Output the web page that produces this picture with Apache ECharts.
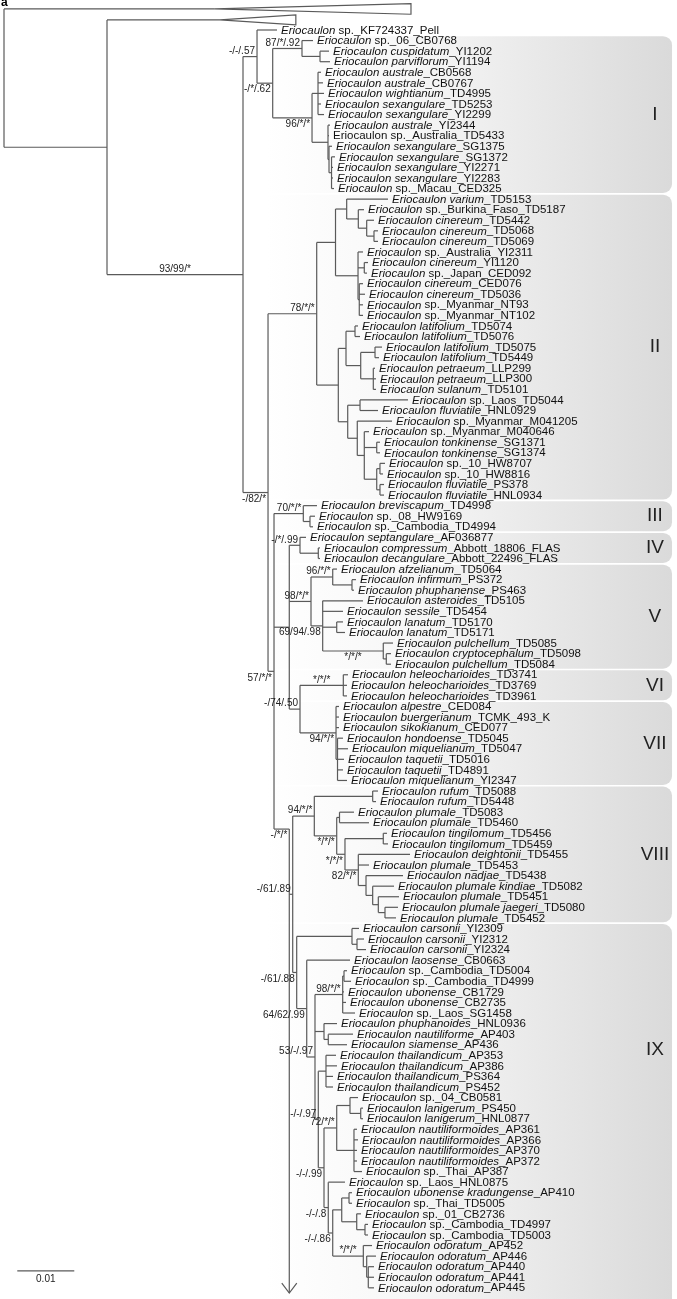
<!DOCTYPE html>
<html><head><meta charset="utf-8">
<script src="https://cdn.jsdelivr.net/npm/echarts@6/dist/echarts.min.js"></script>
<style>html,body{margin:0;padding:0;background:#fff}#c{width:677px;height:1299px}</style>
</head><body><div id="c"></div>
<script>
// ---------- DATA (depths in 10^-3 substitutions/site from root; rows = leaf order) ----------
const leafNames = [
'Eriocaulon| sp._KF724337_Pell','Eriocaulon| sp._06_CB0768','Eriocaulon cuspidatum|_YI1202','Eriocaulon parviflorum|_YI1194',
'Eriocaulon australe|_CB0568','Eriocaulon australe|_CB0767','Eriocaulon wightianum|_TD4995','Eriocaulon sexangulare|_TD5253',
'Eriocaulon sexangulare|_YI2299','Eriocaulon australe|_YI2344','|Eriocaulon sp._Australia_TD5433','Eriocaulon sexangulare|_SG1375',
'Eriocaulon sexangulare|_SG1372','Eriocaulon sexangulare|_YI2271','Eriocaulon sexangulare|_YI2283','Eriocaulon| sp._Macau_CED325',
'Eriocaulon varium|_TD5153','Eriocaulon| sp._Burkina_Faso_TD5187','Eriocaulon cinereum|_TD5442','Eriocaulon cinereum|_TD5068',
'Eriocaulon cinereum|_TD5069','Eriocaulon| sp._Australia_YI2311','Eriocaulon cinereum|_YI1120','Eriocaulon| sp._Japan_CED092',
'Eriocaulon cinereum|_CED076','Eriocaulon cinereum|_TD5036','Eriocaulon| sp._Myanmar_NT93','Eriocaulon| sp._Myanmar_NT102',
'Eriocaulon latifolium|_TD5074','Eriocaulon latifolium|_TD5076','Eriocaulon latifolium|_TD5075','Eriocaulon latifolium|_TD5449',
'Eriocaulon petraeum|_LLP299','Eriocaulon petraeum|_LLP300','Eriocaulon sulanum|_TD5101','Eriocaulon| sp._Laos_TD5044',
'Eriocaulon fluviatile|_HNL0929','Eriocaulon| sp._Myanmar_M041205','Eriocaulon| sp._Myanmar_M040646','Eriocaulon tonkinense|_SG1371',
'Eriocaulon tonkinense|_SG1374','Eriocaulon| sp._10_HW8707','Eriocaulon| sp._10_HW8816','Eriocaulon fluviatile|_PS378',
'Eriocaulon fluviatile|_HNL0934','Eriocaulon breviscapum|_TD4998','Eriocaulon| sp._08_HW9169','Eriocaulon| sp._Cambodia_TD4994',
'Eriocaulon septangulare|_AF036877','Eriocaulon compressum|_Abbott_18806_FLAS','Eriocaulon decangulare|_Abbott_22496_FLAS','Eriocaulon afzelianum|_TD5064',
'Eriocaulon infirmum|_PS372','Eriocaulon phuphanense|_PS463','Eriocaulon asteroides|_TD5105','Eriocaulon sessile|_TD5454',
'Eriocaulon lanatum|_TD5170','Eriocaulon lanatum|_TD5171','Eriocaulon pulchellum|_TD5085','Eriocaulon cryptocephalum|_TD5098',
'Eriocaulon pulchellum|_TD5084','Eriocaulon heleocharioides|_TD3741','Eriocaulon heleocharioides|_TD3769','Eriocaulon heleocharioides|_TD3961',
'Eriocaulon alpestre|_CED084','Eriocaulon buergerianum|_TCMK_493_K','Eriocaulon sikokianum|_CED077','Eriocaulon hondoense|_TD5045',
'Eriocaulon miquelianum|_TD5047','Eriocaulon taquetii|_TD5016','Eriocaulon taquetii|_TD4891','Eriocaulon miquelianum|_YI2347',
'Eriocaulon rufum|_TD5088','Eriocaulon rufum|_TD5448','Eriocaulon plumale|_TD5083','Eriocaulon plumale|_TD5460',
'Eriocaulon tingilomum|_TD5456','Eriocaulon tingilomum|_TD5459','Eriocaulon deightonii|_TD5455','Eriocaulon plumale|_TD5453',
'Eriocaulon nadjae|_TD5438','Eriocaulon plumale kindiae|_TD5082','Eriocaulon plumale|_TD5451','Eriocaulon plumale jaegeri|_TD5080',
'Eriocaulon plumale|_TD5452','Eriocaulon carsonii|_YI2309','Eriocaulon carsonii|_YI2312','Eriocaulon carsonii|_YI2324',
'Eriocaulon laosense|_CB0663','Eriocaulon| sp._Cambodia_TD5004','Eriocaulon| sp._Cambodia_TD4999','Eriocaulon ubonense|_CB1729',
'Eriocaulon ubonense|_CB2735','Eriocaulon| sp._Laos_SG1458','Eriocaulon phuphanoides|_HNL0936','Eriocaulon nautiliforme|_AP403',
'Eriocaulon siamense|_AP436','Eriocaulon thailandicum|_AP353','Eriocaulon thailandicum|_AP386','Eriocaulon thailandicum|_PS364',
'Eriocaulon thailandicum|_PS452','Eriocaulon| sp._04_CB0581','Eriocaulon lanigerum|_PS450','Eriocaulon lanigerum|_HNL0877',
'Eriocaulon nautiliformoides|_AP361','Eriocaulon nautiliformoides|_AP366','Eriocaulon nautiliformoides|_AP370','Eriocaulon nautiliformoides|_AP372',
'Eriocaulon| sp._Thai_AP387','Eriocaulon| sp._Laos_HNL0875','Eriocaulon ubonense kradungense|_AP410','Eriocaulon| sp._Thai_TD5005',
'Eriocaulon| sp._01_CB2736','Eriocaulon| sp._Cambodia_TD4997','Eriocaulon| sp._Cambodia_TD5003','Eriocaulon odoratum|_AP452',
'Eriocaulon odoratum|_AP446','Eriocaulon odoratum|_AP440','Eriocaulon odoratum|_AP441','Eriocaulon odoratum|_AP445'];

const tipDepth = [
47.9,54.21,57.02,57.19,55.61,55.96,56.14,55.61,56.14,57.19,57.02,57.54,58.07,57.72,57.72,57.89,
67.37,63.16,64.91,65.61,65.61,62.98,63.86,63.68,62.98,63.33,62.98,62.98,62.11,62.46,66.32,65.79,
65.09,65.26,65.26,70.88,65.61,68.07,64.04,65.96,65.96,66.84,66.49,66.67,66.67,
54.91,54.56,54.21,52.98,55.44,55.44,58.42,61.75,61.40,62.98,59.47,59.47,59.82,68.25,67.89,67.89,
60.35,60.18,60.18,58.77,58.77,58.77,59.47,60.35,59.65,59.47,60.18,
65.61,65.26,61.40,64.04,67.19,67.37,71.23,64.04,70.00,68.42,69.30,69.12,68.77,
62.28,63.16,63.51,60.70,60.18,60.88,59.65,60.00,61.58,58.42,61.23,60.18,58.25,58.42,57.72,57.72,
62.11,62.98,62.98,61.93,62.11,61.93,61.93,62.81,59.82,61.05,61.05,62.63,63.86,63.86,
64.56,65.26,64.91,64.91,64.91];

const nodeIds = ['R0','R1','N1','A','B','C','D','E','F','G','H','I',
'N2','II','IIa','IIa1','IIa2','IIa3','IIa4','IIa5','IIa6','IIa7','IIb','IIb1','IIb2','IIb3','IIb4','IIb5',
'IIb6','IIb7','IIb8','IIb9','IIb10','IIb11','IIb12','IIb13',
'N3','III','IIIa','N6','IV','IVa','V','Va','Va1','Vb','Vb2','Vb3','Vb4','VIVII','VI','VII','VIIa',
'N4','N7','VIII','VIIIa','VIIIB','VIIIb1','VIIIC','VIIIc1','VIIID','VIIIF','VIIIG','VIIIH','VIIII',
'IX','IXc','IXc1','Q','R','S','S1','W','W1','Z','X','HH','Y','Y1','Y1a','Y2','GG','CC','BB','BB1','BB2','BB2b','DD','DD1','DD2'];

const nodeDepth = [0,18.07,41.93,44.39,47.14,52.28,55.44,54.04,55.09,56.84,57.02,57.46,
46.32,54.86,58.16,60.12,62.16,63.63,64.91,62.11,63.21,62.33,58.65,60.00,61.58,62.58,65.09,64.79,
60.30,62.46,61.98,63.21,65.39,65.39,65.96,65.96,
47.37,52.51,53.68,50.05,51.93,55.14,53.86,57.67,61.05,55.91,58.37,66.54,67.07,51.93,59.53,58.25,58.51,
50.05,50.65,54.44,64.68,58.37,58.86,59.82,66.54,62.16,63.51,64.68,65.67,66.84,
51.35,61.05,61.93,53.11,54.56,59.42,59.65,56.14,56.89,55.14,56.49,56.14,58.37,60.70,62.58,61.40,
56.89,57.67,59.25,60.53,61.88,63.33,63.04,63.63,63.91];

const nodeKids = [
['OG1','R1'],['OG2','N1'],['A','N2'],['L0','B'],['C','E'],['L1','D'],['L2','L3'],['F','G'],
['L4','L5','L6','L7','L8'],['L9','L10','H'],['L11','I'],['L12','L13','L14','L15'],
['II','N3'],['IIa','IIb'],['IIa1','IIa5'],['L16','IIa2'],['L17','IIa3'],['L18','IIa4'],['L19','L20'],
['L21','IIa6','IIa7'],['L22','L23'],['L24','L25','L26','L27'],['IIb1','IIb6'],['IIb2','IIb3'],['L28','L29'],
['IIb4','IIb5'],['L30','L31'],['L32','L33','L34'],['IIb7','IIb8'],['L35','L36'],['L37','IIb9'],
['L38','IIb10','IIb11'],['L39','L40'],['IIb12','IIb13'],['L41','L42'],['L43','L44'],
['III','N6','N4'],['L45','IIIa'],['L46','L47'],['IV','V','VIVII'],['L48','IVa'],['L49','L50'],
['Va','Vb'],['L51','Va1'],['L52','L53'],['L54','L55','Vb2','Vb3'],['L56','L57'],['L58','Vb4'],['L59','L60'],
['VI','VII'],['L61','L62','L63'],['L64','L65','L66','VIIa'],['L67','L68','L69','L70','L71'],
['N7','ARROW'],['VIII','IX'],['VIIIa','VIIIB'],['L72','L73'],['VIIIb1','VIIIC'],['L74','L75'],
['VIIIc1','VIIID'],['L76','L77'],['L78','L79','VIIIF'],['L80','VIIIG'],['L81','VIIIH'],['L82','VIIII'],['L83','L84'],
['IXc','Q'],['L85','IXc1'],['L86','L87'],['L88','R'],['S','W','Z'],['S1','L91','L92','L93'],['L89','L90'],
['L94','W1'],['L95','L96'],['X','HH'],['L97','L98','L99','L100'],['Y','GG'],['Y1','Y2'],['L101','Y1a'],
['L102','L103'],['L104','L105','L106','L107','L108'],['L109','CC'],['BB','DD'],['BB1','BB2'],['L110','L111'],
['L112','BB2b'],['L113','L114'],['L115','DD1'],['L116','DD2'],['L117','L118','L119']];

// node whose stem is drawn at a given row (in leaf units) instead of the midpoint
const stemOverrideIds = ['N4'];
const stemOverrideRows = [75.6];

// collapsed outgroups
const outgroupIds = ['OG1','OG2'];
const outgroupRow = [-1.99,-0.95];
const outgroupApex = [37.0,37.9];
const outgroupTip = [71.4,51.2];
const outgroupHalf = [0.5,0.47];

const arrowRow = 119.5;

// support values: text, node, placement (a=above, b=below, ac/bc = centred on stem)
const supportText = ['93/99/*','-/-/.57','-/*/.62','87/*/.92','96/*/*','78/*/*','-/82/*','57/*/*','70/*/*','-/*/.99',
'98/*/*','96/*/*','69/94/.98','*/*/*','*/*/*','-/74/.50','94/*/*','-/*/*','94/*/*','*/*/*','*/*/*','82/*/*',
'-/61/.89','-/61/.88','64/62/.99','98/*/*','53/-/.97','-/-/.97','72/*/*','-/-/.99','-/-/.8','-/-/.86','*/*/*'];
const supportNode = ['N1','A','B','C','E','II','N2','N3','III','IV','V','Va','Vb','Vb3','VI','VIVII','VII','N4','VIII',
'VIIIB','VIIIC','VIIID','N7','IX','Q','S','R','Z','Y','HH','GG','CC','DD'];
const supportPlace = ['ac','a','b','a','b','a','b','b','a','a','a','a','b','bc','ac','a','b','b','a','b','b','b',
'a','b','b','a','a','a','a','b','b','b','ac'];

// clades
const cladeNames = ['I','II','III','IV','V','VI','VII','VIII','IX'];
const cladeFirst = [1,16,45,48,51,61,64,72,85];
const cladeLast = [15,44,47,50,60,63,71,84,119];
const cladeLabelRow = [8,30,46,49,55.5,62,67.5,78,96.5];

// scale bar (0.01 substitutions/site)
const scaleBarLength = 10;
const scaleBarStart = 2.33;
const scaleBarRow = 117.4;

// ---------- BUILD ----------
const X_MAX = 118.07, Y_MIN = -2.838, Y_MAX = 120.057;
const LINE = '#5a5a5a';
const FONT = '"Liberation Sans", Arial, Helvetica, sans-serif';

const idx = {}; nodeIds.forEach((id,i)=>idx[id]=i);
const ovr = {}; stemOverrideIds.forEach((id,i)=>ovr[id]=stemOverrideRows[i]);
const ogIdx = {}; outgroupIds.forEach((id,i)=>ogIdx[id]=i);
const rowCache = {};
function isLeaf(id){return /^L\d+$/.test(id);}
function rowOf(id){
  if (rowCache[id]!==undefined) return rowCache[id];
  let r;
  if (isLeaf(id)) r = +id.slice(1);
  else if (id==='ARROW') r = arrowRow;
  else if (ogIdx[id]!==undefined) r = outgroupRow[ogIdx[id]];
  else if (ovr[id]!==undefined) r = ovr[id];
  else { const k = nodeKids[idx[id]]; r = (rowOf(k[0]) + rowOf(k[k.length-1]))/2; }
  rowCache[id] = r; return r;
}
const segs = [], tips = [], tris = [], parentDepth = {};
let arrowPt = null;
function walk(id){
  const k = idx[id], d = nodeDepth[k], kids = nodeKids[k];
  const rows = kids.map(rowOf), own = rowOf(id);
  segs.push([d, Math.min(own,...rows), d, Math.max(own,...rows)]);
  kids.forEach((c,j)=>{
    parentDepth[c] = d;
    if (c==='ARROW') { arrowPt = [d, arrowRow]; return; }
    if (isLeaf(c)) { const n=+c.slice(1); segs.push([d,rows[j],tipDepth[n],rows[j]]); tips.push([tipDepth[n],rows[j],n]); }
    else if (ogIdx[c]!==undefined) { const g=ogIdx[c]; segs.push([d,rows[j],outgroupApex[g],rows[j]]); tris.push([outgroupApex[g],rows[j],outgroupTip[g],outgroupHalf[g]]); }
    else { segs.push([d,rows[j],nodeDepth[idx[c]],rows[j]]); walk(c); }
  });
}
walk('R0');

const placeCode = {a:0,b:1,ac:2,bc:3};
const supports = supportText.map((t,i)=>{
  const id = supportNode[i], d = nodeDepth[idx[id]], p = placeCode[supportPlace[i]];
  const ax = p>=2 ? (parentDepth[id]+d)/2 : d;
  return [ax, rowOf(id), i, p];
});
const boxes = cladeNames.map((n,i)=>[cladeFirst[i], cladeLast[i], i, cladeLabelRow[i]]);

const chart = echarts.init(document.getElementById('c'), null, {width:677, height:1299});

function richLabel(name){
  const p = name.split('|');
  return (p[0] ? '{i|'+p[0]+'}' : '') + (p[1] ? '{n|'+p[1]+'}' : '');
}
const TXT = '#111';
const option = {
  animation:false,
  title:{text:'a', left:1, top:-3, padding:0, textStyle:{fontSize:12, fontWeight:'bold', color:'#000', fontFamily:FONT}},
  grid:{left:4, right:0, top:0, bottom:0},
  xAxis:{type:'value', min:0, max:X_MAX, show:false},
  yAxis:{type:'value', min:Y_MIN, max:Y_MAX, inverse:true, show:false},
  series:[
    { // clade boxes
      type:'custom', silent:true, clip:false, z:1, data:boxes,
      renderItem:(params,api)=>{
        const last = api.value(2) === cladeNames.length-1;
        const p0 = api.coord([46, api.value(0)-0.42]);
        const p1 = api.coord([117.2, last ? Y_MAX+1 : api.value(1)+0.42]);
        return {type:'rect', shape:{x:p0[0], y:p0[1], width:p1[0]-p0[0], height:p1[1]-p0[1], r:[0,9,9,0]},
          style:{fill:{type:'linear',x:0,y:0,x2:1,y2:0,colorStops:[{offset:0,color:'rgba(255,255,255,1)'},{offset:0.35,color:'#f7f7f7'},{offset:1,color:'#dadada'}]}}};
      }
    },
    { // clade numerals
      type:'custom', silent:true, clip:false, z:2, data:boxes,
      renderItem:(params,api)=>{
        const p = api.coord([114.2, api.value(3)]);
        return {type:'text', style:{x:p[0], y:p[1], text:cladeNames[api.value(2)], align:'center', verticalAlign:'middle',
          fill:'#222', font:'19px '+FONT}};
      }
    },
    { // branches
      type:'custom', silent:true, clip:false, z:3, data:segs,
      renderItem:(params,api)=>{
        const a = api.coord([api.value(0), api.value(1)]), b = api.coord([api.value(2), api.value(3)]);
        return {type:'line', shape:{x1:a[0],y1:a[1],x2:b[0],y2:b[1]}, style:{stroke:LINE, lineWidth:1.2}};
      }
    },
    { // collapsed outgroups
      type:'custom', silent:true, clip:false, z:3, data:tris,
      renderItem:(params,api)=>{
        const a = api.coord([api.value(0), api.value(1)]);
        const b = api.coord([api.value(2), api.value(1)-api.value(3)]);
        const c = api.coord([api.value(2), api.value(1)+api.value(3)]);
        return {type:'polygon', shape:{points:[a,b,c]}, style:{stroke:LINE, lineWidth:1.2, fill:'#fff'}};
      }
    },
    { // arrow
      type:'custom', silent:true, clip:false, z:3, data:[arrowPt],
      renderItem:(params,api)=>{
        const t = api.coord([api.value(0), api.value(1)]);
        return {type:'polyline', shape:{points:[[t[0]-7.5,t[1]-10],[t[0],t[1]],[t[0]+7.5,t[1]-10]]}, style:{stroke:LINE, lineWidth:1.2, fill:null}};
      }
    },
    { // tip labels
      type:'custom', silent:true, clip:false, z:4, data:tips,
      renderItem:(params,api)=>{
        const p = api.coord([api.value(0), api.value(1)]);
        return {type:'text', style:{x:p[0]+4, y:p[1]+0.5, text:richLabel(leafNames[api.value(2)]), align:'left', verticalAlign:'middle',
          fill:TXT, font:'11.5px '+FONT,
          rich:{i:{fontStyle:'italic', fontSize:11.5, fontFamily:FONT, fill:TXT}, n:{fontSize:11.5, fontFamily:FONT, fill:TXT}}}};
      }
    },
    { // support values
      type:'custom', silent:true, clip:false, z:5, data:supports,
      renderItem:(params,api)=>{
        const p = api.coord([api.value(0), api.value(1)]);
        const m = api.value(3);
        const above = (m===0||m===2);
        return {type:'text', style:{x: m>=2 ? p[0] : p[0]-2, y: above ? p[1]-0.5 : p[1]+1.5,
          text:supportText[api.value(2)], align: m>=2 ? 'center':'right', verticalAlign: above ? 'bottom':'top',
          fill:'#222', font:'10px '+FONT}};
      }
    },
    { // scale bar
      type:'custom', silent:true, clip:false, z:5, data:[[scaleBarStart, scaleBarRow, scaleBarStart+scaleBarLength]],
      renderItem:(params,api)=>{
        const a = api.coord([api.value(0), api.value(1)]), b = api.coord([api.value(2), api.value(1)]);
        return {type:'group', children:[
          {type:'line', shape:{x1:a[0],y1:a[1],x2:b[0],y2:b[1]}, style:{stroke:LINE, lineWidth:1.2}},
          {type:'text', style:{x:(a[0]+b[0])/2, y:a[1]+3, text:(scaleBarLength/1000).toString(), align:'center', verticalAlign:'top', fill:'#222', font:'10px '+FONT}}
        ]};
      }
    }
  ]
};
chart.setOption(option);
</script>
</body></html>
